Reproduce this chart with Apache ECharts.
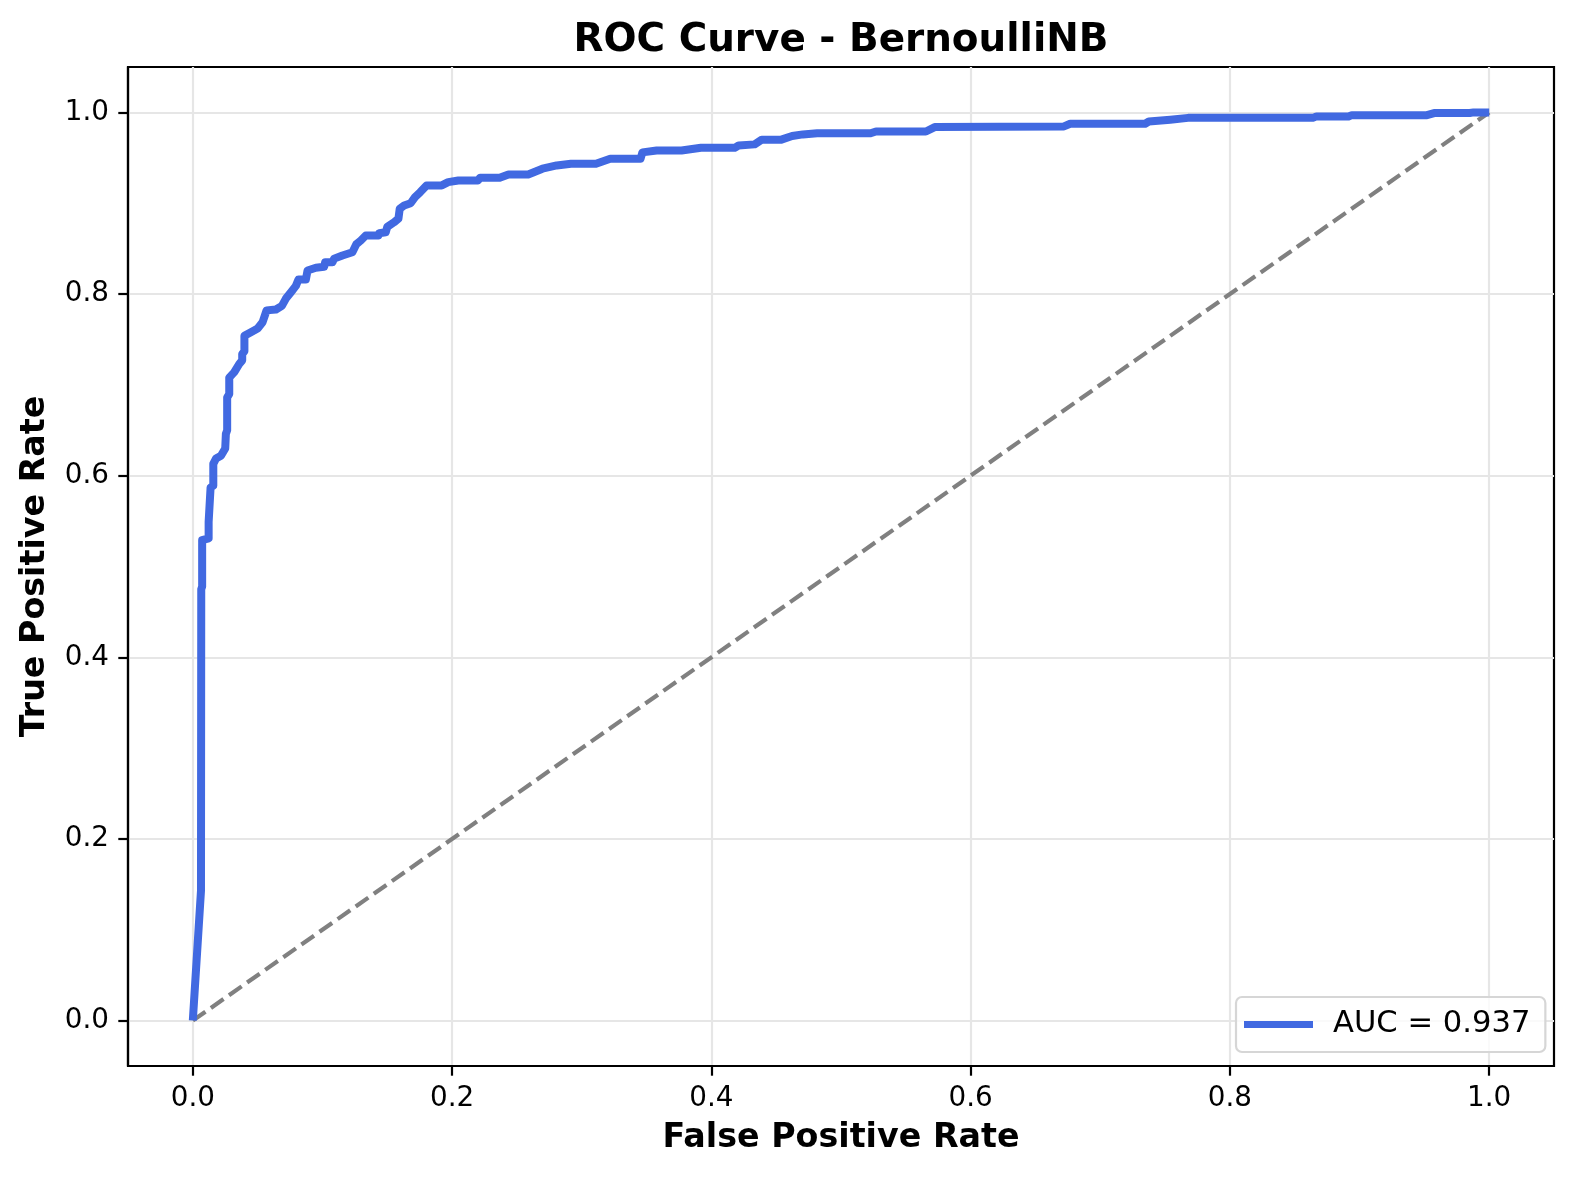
<!DOCTYPE html>
<html>
<head>
<meta charset="utf-8">
<script src="https://cdn.jsdelivr.net/npm/echarts@6/dist/echarts.min.js"></script>
<style>
html,body{margin:0;padding:0;background:#fff;}
#chart{width:1577px;height:1177px;}
</style>
</head>
<body>
<div id="chart"></div>
<script>
const titleText = 'ROC Curve - BernoulliNB';
const xLabel = 'False Positive Rate';
const yLabel = 'True Positive Rate';
const seriesName = 'AUC = 0.937';
const tickValues = [0, 0.2, 0.4, 0.6, 0.8, 1.0];

const fpr = [0, 0.0063, 0.0065, 0.0072, 0.0072, 0.0122, 0.0122, 0.0137, 0.0137, 0.0158, 0.0158, 0.0179, 0.0217, 0.025, 0.0255, 0.0265, 0.0265, 0.0281, 0.0281, 0.032, 0.0358, 0.0381, 0.0381, 0.0398, 0.0398, 0.0448, 0.050, 0.0538, 0.0569, 0.0641, 0.0687, 0.0718, 0.0757, 0.0795, 0.0815, 0.0872, 0.0885, 0.0949, 0.1013, 0.1021, 0.1077, 0.109, 0.1154, 0.1231, 0.1262, 0.1296, 0.1334, 0.1432, 0.1437, 0.1488, 0.150, 0.1552, 0.1586, 0.1596, 0.163, 0.168, 0.1714, 0.1753, 0.1803, 0.192, 0.197, 0.2048, 0.220, 0.2215, 0.2367, 0.2435, 0.2587, 0.2697, 0.2807, 0.2917, 0.311, 0.322, 0.3454, 0.3468, 0.3578, 0.377, 0.392, 0.418, 0.421, 0.4334, 0.4389, 0.454, 0.4623, 0.4706, 0.4816, 0.5228, 0.527, 0.5655, 0.5723, 0.672, 0.6768, 0.7346, 0.7375, 0.754, 0.7677, 0.864, 0.8668, 0.8915, 0.894, 0.952, 0.9575, 0.985, 0.988, 1.0];
const tpr = [0, 0.143, 0.475, 0.478, 0.529, 0.531, 0.549, 0.551, 0.587, 0.589, 0.613, 0.619, 0.622, 0.630, 0.646, 0.650, 0.686, 0.690, 0.708, 0.714, 0.723, 0.727, 0.734, 0.737, 0.754, 0.758, 0.762, 0.769, 0.782, 0.783, 0.787, 0.795, 0.802, 0.809, 0.816, 0.816, 0.826, 0.829, 0.830, 0.835, 0.835, 0.839, 0.8425, 0.846, 0.855, 0.859, 0.8645, 0.8645, 0.867, 0.868, 0.874, 0.879, 0.883, 0.894, 0.8975, 0.900, 0.9067, 0.912, 0.9196, 0.9196, 0.9232, 0.925, 0.925, 0.928, 0.928, 0.9317, 0.9317, 0.938, 0.9416, 0.9435, 0.9435, 0.949, 0.949, 0.956, 0.958, 0.958, 0.961, 0.961, 0.9636, 0.9648, 0.970, 0.970, 0.974, 0.9758, 0.977, 0.977, 0.979, 0.979, 0.9838, 0.9846, 0.9875, 0.9875, 0.990, 0.992, 0.994, 0.994, 0.9956, 0.9956, 0.997, 0.997, 0.9993, 0.9993, 1.0, 1.0];
const diagX = [0, 1];
const diagY = [0, 1];

const rocData = fpr.map((x, i) => [x, tpr[i]]);
const diagData = diagX.map((x, i) => [x, diagY[i]]);

const FONT = 'DejaVu Sans';
const chart = echarts.init(document.getElementById('chart'), null, {renderer: 'canvas'});

function axisCommon(name, nameGap, isY) {
  return {
    type: 'value',
    min: -0.05,
    max: 1.05,
    name: name,
    nameLocation: 'middle',
    nameGap: nameGap,
    nameRotate: isY ? 90 : 0,
    nameTextStyle: {fontFamily: FONT, fontSize: 33.3, fontWeight: 'bold', color: '#000'},
    axisLine: {show: true, onZero: false, lineStyle: {color: '#000', width: 2.2}},
    axisTick: {show: true, length: 9.7, inside: false, customValues: tickValues, lineStyle: {color: '#000', width: 2.2}},
    axisLabel: {show: true, margin: 19, customValues: tickValues, fontFamily: FONT, fontSize: 27.8, color: '#000',
      formatter: v => Number(v).toFixed(1)},
    splitLine: {show: true, lineStyle: {color: '#e6e6e6', width: 2.2}}
  };
}

chart.setOption({
  animation: false,
  backgroundColor: '#fff',
  title: {
    text: titleText,
    left: 841,
    top: 21,
    padding: 0,
    textAlign: 'center',
    textStyle: {fontFamily: FONT, fontSize: 38.9, fontWeight: 'bold', color: '#000'}
  },
  grid: {
    left: 128, right: 23, top: 67, bottom: 111,
    show: true, borderColor: '#000', borderWidth: 2.2, backgroundColor: 'transparent'
  },
  xAxis: axisCommon(xLabel, 56, false),
  yAxis: axisCommon(yLabel, 76, true),
  legend: {
    data: [seriesName],
    left: 1236,
    top: 997,
    orient: 'vertical',
    padding: [12, 15, 12, 8],
    itemWidth: 69,
    itemHeight: 7,
    icon: 'rect',
    backgroundColor: 'rgba(255,255,255,0.8)',
    borderColor: '#d6d6d6',
    borderWidth: 2.2,
    borderRadius: 6,
    textStyle: {fontFamily: FONT, fontSize: 30.6, color: '#000', padding: [0, 0, 0, 15]}
  },
  series: [
    {
      name: 'diag',
      type: 'line',
      data: diagData,
      symbol: 'none',
      silent: true,
      z: 2,
      lineStyle: {color: '#808080', width: 4.2, type: [15.4, 6.7]}
    },
    {
      name: seriesName,
      type: 'line',
      data: rocData,
      symbol: 'none',
      z: 3,
      itemStyle: {color: '#4169E1'},
      lineStyle: {color: '#4169E1', width: 8, join: 'round', cap: 'butt'}
    }
  ]
});
</script>
</body>
</html>
